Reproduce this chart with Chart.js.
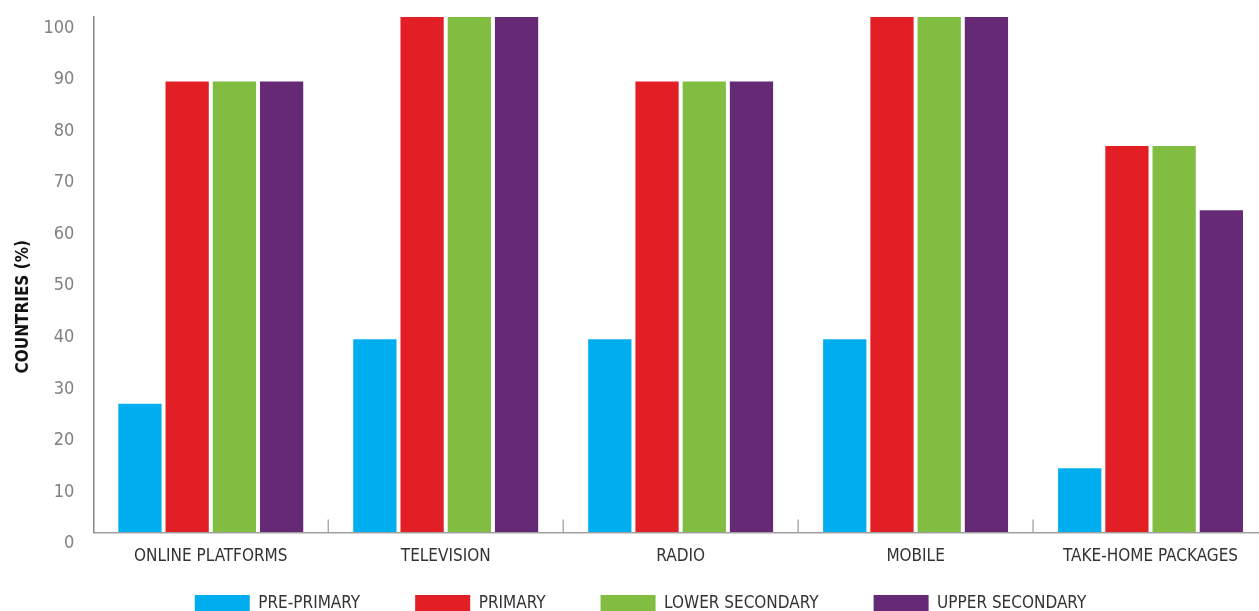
<!DOCTYPE html>
<html>
<head>
<meta charset="utf-8">
<script src="https://cdn.jsdelivr.net/npm/chart.js@4.4.1/dist/chart.umd.min.js"></script>
<style>
  html, body { margin: 0; padding: 0; overflow: hidden; background: #fff; }
  #wrap { position: absolute; left: 0; top: 0; width: 1268px; height: 664px; }
</style>
</head>
<body>
<div id="wrap"><canvas id="chart"></canvas></div>
<script>
const categories = ['ONLINE PLATFORMS', 'TELEVISION', 'RADIO', 'MOBILE', 'TAKE-HOME PACKAGES'];
const prePrimary = [25, 37.5, 37.5, 37.5, 12.5];
const primary = [87.5, 100, 87.5, 100, 75];
const lowerSecondary = [87.5, 100, 87.5, 100, 75];
const upperSecondary = [87.5, 100, 87.5, 100, 62.5];
const yMin = 0, yMax = 100, yStep = 10;

const FONT = "'Liberation Sans Narrow', 'DejaVu Sans Condensed', 'Roboto Condensed', Roboto, sans-serif";

// little upward tick marks between the category groups
const groupTicks = {
    id: 'groupTicks',
    afterDraw(chart) {
        const x = chart.scales.x;
        const ctx = chart.ctx;
        const bottom = chart.chartArea.bottom;
        ctx.save();
        ctx.strokeStyle = '#9a9a9a';
        ctx.lineWidth = 1.2;
        for (let i = 1; i < categories.length; i++) {
            const px = (x.getPixelForValue(i - 1) + x.getPixelForValue(i)) / 2;
            ctx.beginPath();
            ctx.moveTo(px, bottom - 13);
            ctx.lineTo(px, bottom);
            ctx.stroke();
        }
        ctx.restore();
    }
};

// pull the legend up so it sits close under the axis labels
const legendShift = {
    id: 'legendShift',
    afterLayout(chart) {
        const lg = chart.legend;
        const dy = -41;
        lg.top += dy;
        lg.bottom += dy;
    }
};

const ctx = document.getElementById('chart').getContext('2d');
new Chart(ctx, {
    type: 'bar',
    data: {
        labels: categories,
        datasets: [
            { label: 'PRE-PRIMARY', data: prePrimary, backgroundColor: '#00aeef' },
            { label: 'PRIMARY', data: primary, backgroundColor: '#e31f26' },
            { label: 'LOWER SECONDARY', data: lowerSecondary, backgroundColor: '#80bd41' },
            { label: 'UPPER SECONDARY', data: upperSecondary, backgroundColor: '#662976' }
        ]
    },
    options: {
        responsive: true,
        maintainAspectRatio: false,
        animation: false,
        devicePixelRatio: 1,
        categoryPercentage: 0.804,
        barPercentage: 0.916,
        layout: { padding: { top: 17, left: 13, right: 0, bottom: 0 } },
        plugins: {
            tooltip: { enabled: false },
            legend: {
                position: 'bottom',
                labels: {
                    boxWidth: 55,
                    boxHeight: 18,
                    padding: 55,
                    color: '#333',
                    font: { family: FONT, size: 17 }
                }
            }
        },
        scales: {
            x: {
                grid: { display: false, drawTicks: false },
                border: { display: true, color: '#a0a0a0', width: 1.5 },
                ticks: {
                    color: '#333',
                    padding: 14,
                    maxRotation: 0,
                    font: { family: FONT, size: 17 }
                }
            },
            y: {
                min: yMin,
                max: yMax,
                // invisible tick marks give the gap between labels and axis
                grid: { display: true, drawOnChartArea: false, drawTicks: true, tickLength: 19, tickColor: 'rgba(0,0,0,0)' },
                border: { display: true, color: '#888', width: 1.5 },
                ticks: {
                    stepSize: yStep,
                    color: '#808080',
                    padding: 0,
                    labelOffset: 11,
                    font: { family: FONT, size: 18 }
                },
                title: {
                    display: true,
                    // trailing spaces push the title a bit below the middle, as in the original
                    text: 'COUNTRIES (%)' + '\u00a0'.repeat(12),
                    color: '#111',
                    padding: { top: 0, bottom: 10 },
                    font: { family: FONT, size: 17, weight: 'bold' }
                }
            }
        }
    },
    plugins: [groupTicks, legendShift]
});
</script>
</body>
</html>
